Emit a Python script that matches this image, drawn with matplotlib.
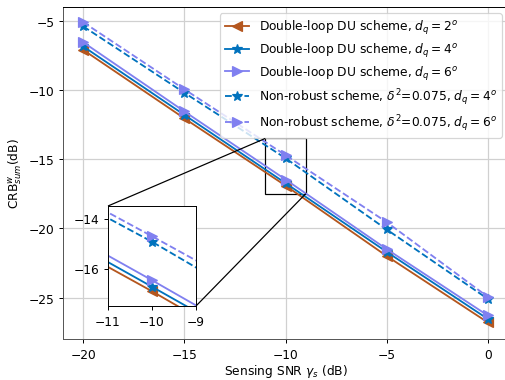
import matplotlib
matplotlib.use("Agg")
import matplotlib.pyplot as plt
from mpl_toolkits.axes_grid1.inset_locator import mark_inset

snr = [-20, -15, -10, -5, 0]
du_dq2 = [-7.1, -12.05, -16.91, -22.0, -26.8]
du_dq4 = [-6.85, -11.8, -16.73, -21.7, -26.55]
du_dq6 = [-6.55, -11.55, -16.47, -21.5, -26.3]
nr_dq4 = [-5.4, -10.2, -14.93, -20.08, -25.1]
nr_dq6 = [-5.1, -9.95, -14.71, -19.55, -24.95]

c_brown = '#B4561E'
c_blue = '#0072BD'
c_purple = '#8080F0'

series = [
    (du_dq2, c_brown, '-', '<', r'Double-loop DU scheme, $d_q = 2^o$'),
    (du_dq4, c_blue, '-', '*', r'Double-loop DU scheme, $d_q = 4^o$'),
    (du_dq6, c_purple, '-', '>', r'Double-loop DU scheme, $d_q = 6^o$'),
    (nr_dq4, c_blue, '--', '*', r'Non-robust scheme, $\delta^2$=0.075, $d_q = 4^o$'),
    (nr_dq6, c_purple, '--', '>', r'Non-robust scheme, $\delta^2$=0.075, $d_q = 6^o$'),
]

DPI = 88
fig = plt.figure(figsize=(505/DPI, 381/DPI), dpi=DPI)
ax = fig.add_axes([63/505, 41/381, 445/505, 332/381])

def draw(a):
    for ys, c, ls, m, lab in series:
        a.plot(snr, ys, color=c, linestyle=ls, marker=m, markersize=8,
               linewidth=1.5, label=lab)

draw(ax)
ax.set_xlim(-21, 1)
ax.set_ylim(-28, -4)
ax.set_xticks([-20, -15, -10, -5, 0])
ax.set_yticks([-5, -10, -15, -20, -25])
ax.grid(True, color='#d0d0d0', linewidth=1)
ax.set_axisbelow(True)
for s in ['left', 'bottom']:
    ax.spines[s].set_color('#555555')
ax.set_xlabel(r'Sensing SNR $\gamma_s$ (dB)', labelpad=1.5)
ax.set_ylabel(r'CRB$^w_{sum}$(dB)')
ax.legend(loc='upper right', fontsize=10, labelspacing=0.4)

# zoomed inset around -10 dB
axins = fig.add_axes([108/505, 74/381, 88/505, 100/381])
draw(axins)
axins.set_xlim(-11, -9)
axins.set_ylim(-17.5, -13.5)
axins.set_xticks([-11, -10, -9])
axins.set_yticks([-16, -14])
mark_inset(ax, axins, loc1=2, loc2=4, fc='none', ec='black', lw=1)

fig.savefig('out.png', dpi=DPI)
